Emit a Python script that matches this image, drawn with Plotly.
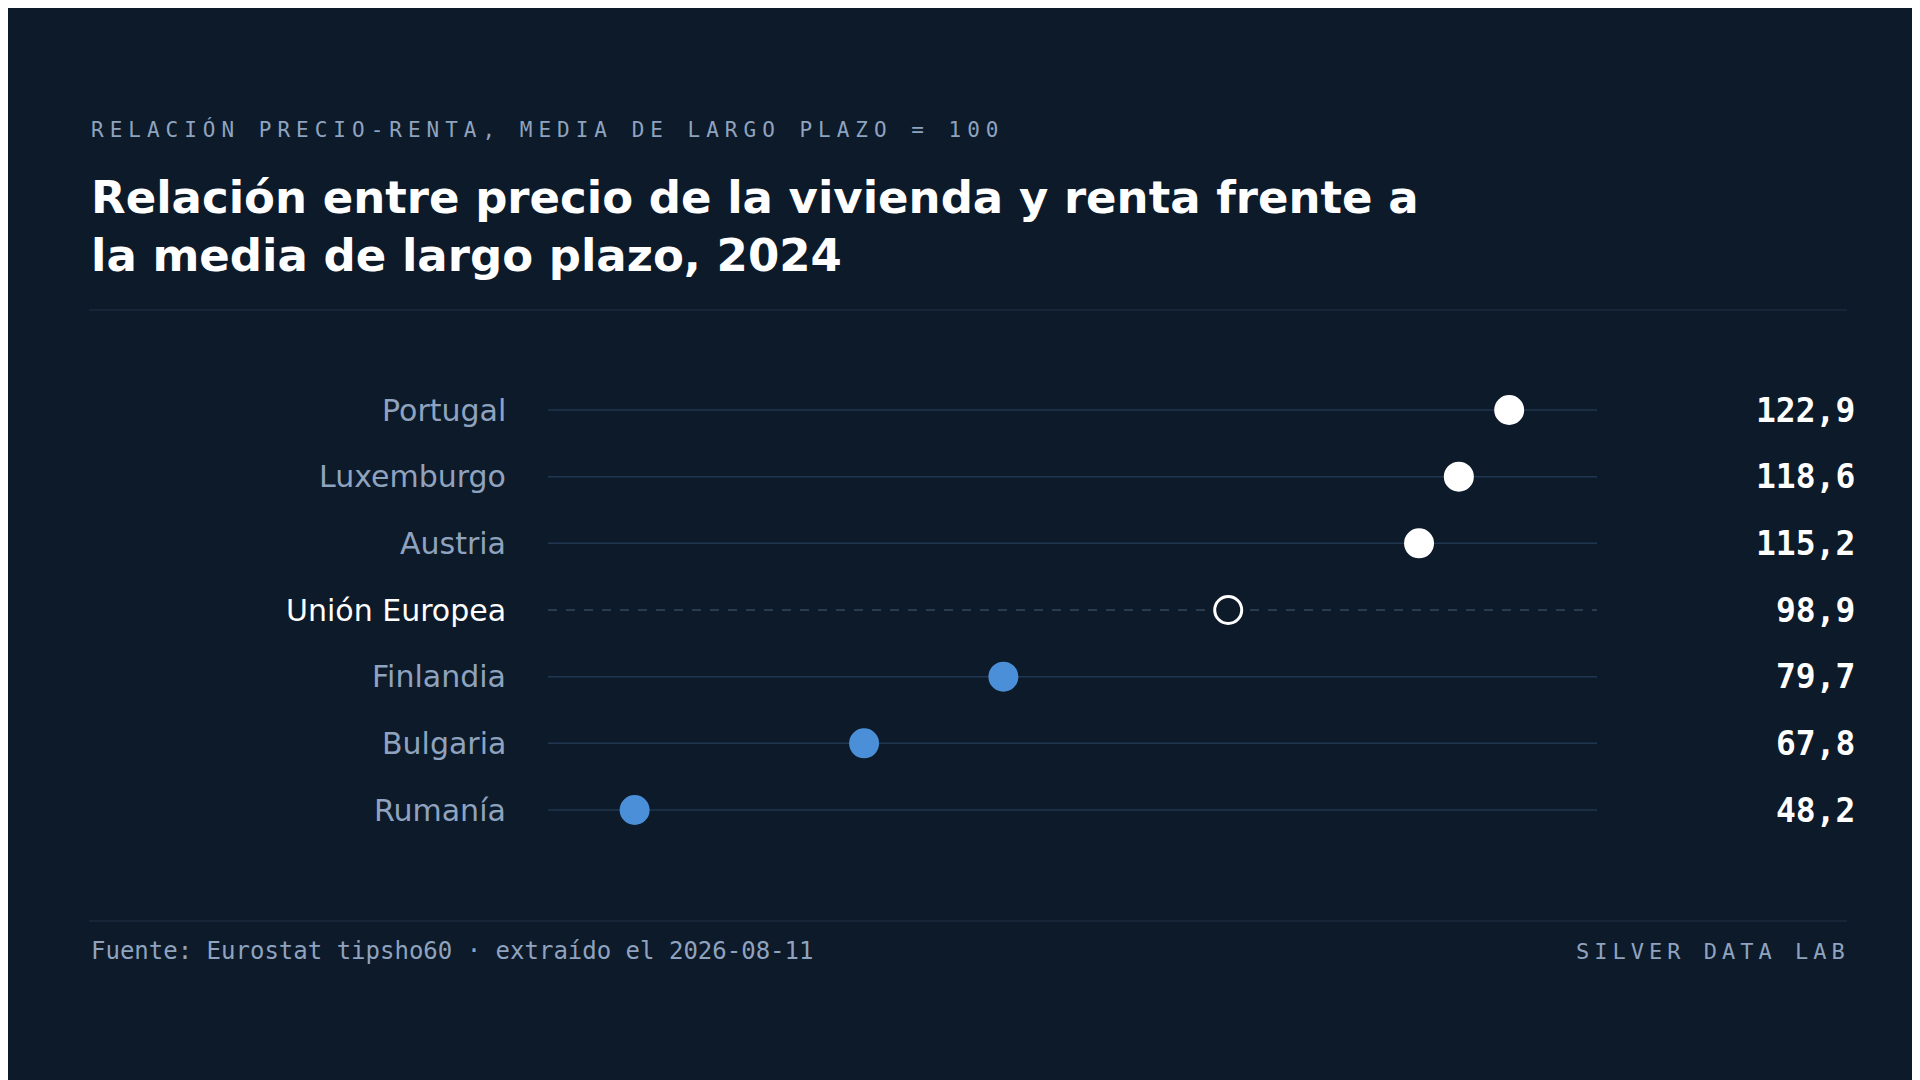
import plotly.graph_objects as go

countries = ["Portugal", "Luxemburgo", "Austria", "Unión Europea", "Finlandia", "Bulgaria", "Rumanía"]
values = [122.9, 118.6, 115.2, 98.9, 79.7, 67.8, 48.2]
value_labels = ["122,9", "118,6", "115,2", "98,9", "79,7", "67,8", "48,2"]
eu_name = "Unión Europea"

BG = "#0d1a2a"
BLUE = "#4a8fd8"
GRID = "#1f3750"
MUTED = "#8fa3bf"
MONO = "DejaVu Sans Mono"
SANS = "DejaVu Sans"

XMIN, XMAX = 40.8, 130.4
W, H = 1920, 1080
row_px = [402, 468, 535, 601, 669, 735, 802]
step = (row_px[-1] - row_px[0]) / (len(countries) - 1)
y_top = -row_px[0] / step
y_bot = (H - row_px[0]) / step

fig = go.Figure()
shapes = []
annotations = []
ys = list(range(len(countries)))
for i, (c, v, lab) in enumerate(zip(countries, values, value_labels)):
    is_eu = c == eu_name
    shapes.append(dict(type="line", xref="x", yref="y", x0=XMIN, x1=XMAX, y0=i, y1=i,
                       line=dict(color="#33475c" if is_eu else GRID, width=1.5,
                                 dash="dash" if is_eu else "solid"), layer="below"))
    annotations.append(dict(text=c, x=500 / W, xref="paper", y=i, yref="y", xanchor="right",
                            yanchor="middle", showarrow=False,
                            font=dict(family=SANS, size=30, color="#ffffff" if is_eu else MUTED)))
    annotations.append(dict(text="<b>" + lab + "</b>", x=1849 / W, xref="paper", y=i, yref="y",
                            xanchor="right", yanchor="middle", showarrow=False,
                            font=dict(family=MONO, size=33, color="#ffffff")))

colors = []
fills = []
for c, v in zip(countries, values):
    if c == eu_name:
        colors.append(BG); fills.append("#ffffff")
    elif v > 100:
        colors.append("#ffffff"); fills.append("#ffffff")
    else:
        colors.append(BLUE); fills.append(BLUE)

fig.add_trace(go.Scatter(x=values, y=ys, mode="markers",
                         marker=dict(size=27, color=colors, line=dict(color=fills, width=3)),
                         hoverinfo="skip", showlegend=False))

annotations += [
    dict(text="RELACIÓN PRECIO-RENTA, MEDIA DE LARGO PLAZO = 100", x=81 / W, y=1 - 122 / H,
         xref="paper", yref="paper", xanchor="left", yanchor="middle", showarrow=False,
         font=dict(family=MONO, size=21, color=MUTED)),
    dict(text="<b>Relación entre precio de la vivienda y renta frente a</b>", x=81 / W, y=1 - 189 / H,
         xref="paper", yref="paper", xanchor="left", yanchor="middle", showarrow=False,
         font=dict(family=SANS, size=45, color="#ffffff")),
    dict(text="<b>la media de largo plazo, 2024</b>", x=81 / W, y=1 - 247 / H,
         xref="paper", yref="paper", xanchor="left", yanchor="middle", showarrow=False,
         font=dict(family=SANS, size=45, color="#ffffff")),
    dict(text="Fuente: Eurostat tipsho60 · extraído el 2026-08-11", x=81 / W, y=1 - 943 / H,
         xref="paper", yref="paper", xanchor="left", yanchor="middle", showarrow=False,
         font=dict(family=MONO, size=24, color=MUTED)),
    dict(text="SILVER DATA LAB", x=1839 / W, y=1 - 943 / H,
         xref="paper", yref="paper", xanchor="right", yanchor="middle", showarrow=False,
         font=dict(family=MONO, size=22, color=MUTED)),
]
shapes += [
    dict(type="line", xref="paper", yref="paper", x0=81 / W, x1=1839 / W, y0=1 - 302 / H, y1=1 - 302 / H,
         line=dict(color="#1a2a3c", width=1.5)),
    dict(type="line", xref="paper", yref="paper", x0=81 / W, x1=1839 / W, y0=1 - 913 / H, y1=1 - 913 / H,
         line=dict(color="#1a2a3c", width=1.5)),
]

fig.update_layout(
    width=W, height=H, margin=dict(l=0, r=0, t=0, b=0),
    paper_bgcolor=BG, plot_bgcolor=BG,
    xaxis=dict(domain=[540 / W, 1589 / W], range=[XMIN, XMAX], visible=False, fixedrange=True),
    yaxis=dict(domain=[0, 1], range=[y_bot, y_top], visible=False, fixedrange=True),
    shapes=shapes, annotations=annotations,
)

post = """
function sp(){document.querySelectorAll('.annotation-text').forEach(function(t){
 var s=t.textContent, ls=null, right=false;
 if(s.indexOf('RELACI')===0){ls='6px';}
 if(s==='SILVER DATA LAB'){ls='5px';right=true;}
 if(!ls||t.getAttribute('data-sp'))return;
 var b=t.getBBox();
 t.style.letterSpacing=ls;
 var a=t.getBBox();
 var dx=right?((b.x+b.width)-(a.x+a.width)+parseFloat(ls)):(b.x-a.x);
 t.setAttribute('x',parseFloat(t.getAttribute('x')||0)+dx);
 t.setAttribute('data-sp','1');
});}
sp();
"""
fig.write_html("out.html", post_script=post, config={"displayModeBar": False})
